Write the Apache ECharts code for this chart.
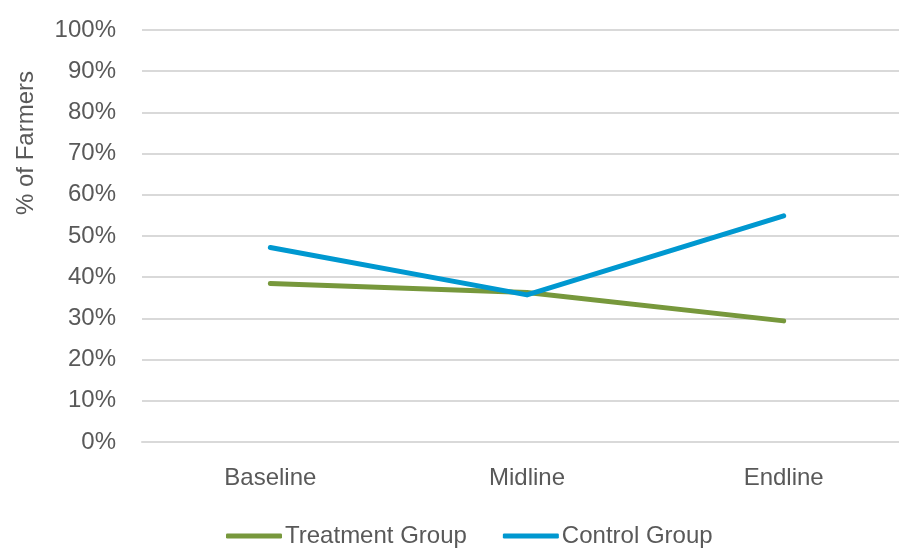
<!DOCTYPE html>
<html>
<head>
<meta charset="utf-8">
<script src="https://cdn.jsdelivr.net/npm/echarts@6/dist/echarts.min.js"></script>
<style>
  html, body { margin: 0; padding: 0; background: #fff; overflow: hidden; }
  /* canvas is a little wider than the window so the plot runs off the right edge */
  #chart { width: 912px; height: 548px; }
</style>
</head>
<body>
<div id="chart"></div>
<script>
// Survey rounds and share of farmers per group
const categories = ['Baseline', 'Midline', 'Endline'];
const treatmentGroup = [38.5, 36.3, 29.4];
const controlGroup = [47.2, 35.7, 54.9];
const yTicks = { min: 0, max: 100, interval: 10 };

const FONT = "'Liberation Sans', Arial, sans-serif";
const TEXT = '#595959';
const SIZE = 24;

const chart = echarts.init(document.getElementById('chart'));
chart.setOption({
  animation: false,
  backgroundColor: '#ffffff',
  grid: { left: 142, top: 30, right: 0, bottom: 106 },
  legend: {
    left: 221, top: 519,
    itemWidth: 56, itemHeight: 5, itemGap: 36,
    icon: 'roundRect',
    textStyle: { fontFamily: FONT, fontSize: SIZE, lineHeight: 24, color: TEXT, padding: [0, 0, 0, -2] },
    data: ['Treatment Group', 'Control Group']
  },
  xAxis: {
    type: 'category',
    data: categories,
    boundaryGap: true,
    axisLine: { show: true, lineStyle: { color: '#d9d9d9', width: 2 } },
    axisTick: { show: false },
    axisLabel: { fontFamily: FONT, fontSize: SIZE, color: TEXT, margin: 24 }
  },
  yAxis: {
    type: 'value',
    min: yTicks.min, max: yTicks.max, interval: yTicks.interval,
    axisLine: { show: false },
    axisTick: { show: false },
    splitLine: { lineStyle: { color: '#d9d9d9', width: 2 } },
    axisLabel: { fontFamily: FONT, fontSize: SIZE, color: TEXT, margin: 26, formatter: '{value}%' }
  },
  graphic: [{
    type: 'text',
    x: 26, y: 143,
    rotation: Math.PI / 2,
    style: {
      text: '% of Farmers',
      font: SIZE + 'px ' + FONT,
      fill: TEXT,
      textAlign: 'center',
      textVerticalAlign: 'middle'
    }
  }],
  series: [
    {
      name: 'Treatment Group', type: 'line', data: treatmentGroup,
      symbol: 'none', color: '#77983c',
      lineStyle: { width: 5, cap: 'round', join: 'round' }
    },
    {
      name: 'Control Group', type: 'line', data: controlGroup,
      symbol: 'none', color: '#0098d0',
      lineStyle: { width: 5, cap: 'round', join: 'round' }
    }
  ]
});
</script>
</body>
</html>
